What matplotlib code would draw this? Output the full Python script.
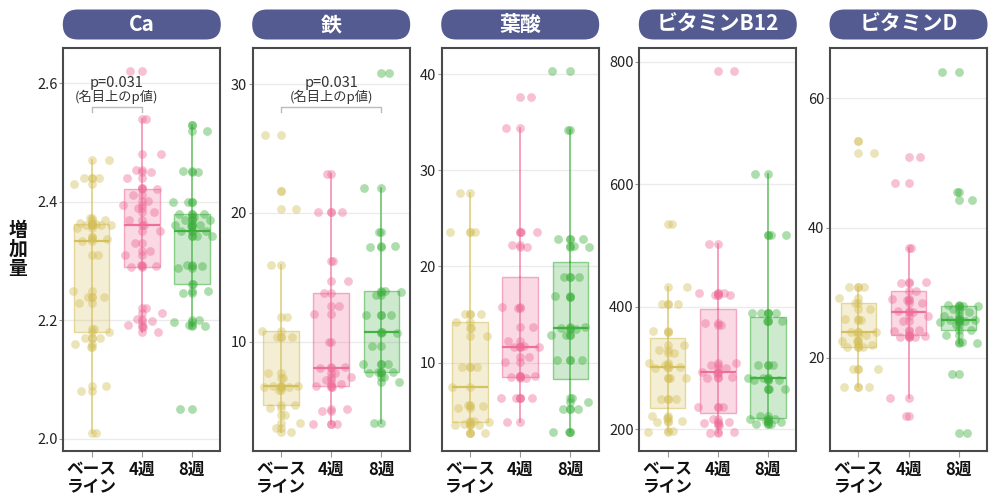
import matplotlib
matplotlib.use('Agg')
import matplotlib.pyplot as plt
import numpy as np
from matplotlib.patches import FancyBboxPatch
from matplotlib.colors import to_rgba
from matplotlib.ticker import FormatStrFormatter

plt.rcParams['font.family'] = ['Noto Sans CJK JP', 'DejaVu Sans']

# Data
groups = ['ベース\nライン', '4週', '8週']
nutrients = ['Ca', '鉄', '葉酸', 'ビタミンB12', 'ビタミンD']

ca_base = [2.01, 2.08, 2.09, 2.155, 2.16, 2.17, 2.17, 2.181, 2.185, 2.23, 2.24, 2.24, 2.25, 2.31, 2.334,
           2.337, 2.34, 2.355, 2.36, 2.36, 2.36, 2.362, 2.365, 2.37, 2.372, 2.43, 2.44, 2.44, 2.47]
ca_4w = [2.18, 2.188, 2.192, 2.199, 2.203, 2.212, 2.22, 2.29, 2.291, 2.294, 2.31, 2.317, 2.331, 2.351, 2.361,
         2.37, 2.382, 2.389, 2.394, 2.402, 2.412, 2.421, 2.424, 2.44, 2.451, 2.453, 2.48, 2.54, 2.62]
ca_8w = [2.05, 2.19, 2.192, 2.197, 2.2, 2.246, 2.25, 2.261, 2.288, 2.291, 2.294, 2.342, 2.342, 2.35, 2.351,
         2.359, 2.361, 2.361, 2.37, 2.37, 2.375, 2.38, 2.38, 2.40, 2.40, 2.451, 2.452, 2.519, 2.529]

fe_base = [2.97, 3.27, 3.66, 4.31, 4.83, 5.09, 6.25, 6.5, 6.5, 6.55, 6.6, 7.2, 7.59, 10.39, 10.4, 10.83,
           11.94, 15.95, 20.3, 21.7, 26.05]
fe_4w = [3.59, 3.6, 4.62, 4.75, 6.5, 6.58, 6.75, 7.03, 7.3, 7.55, 7.93, 8.06, 10.0, 12.13, 12.8, 13.76,
         14.71, 16.27, 20.05, 20.05, 23.0]
fe_8w = [3.66, 6.89, 7.3, 7.6, 7.65, 7.67, 8.27, 8.3, 9.69, 10.7, 10.73, 12.07, 12.1, 13.6, 13.9, 13.94,
         17.38, 17.4, 18.54, 21.9, 30.9]

folate_base = [2.72, 2.72, 3.52, 3.52, 3.6, 3.8, 3.97, 5.3, 5.5, 5.6, 7.5, 9.58, 9.6, 12.8, 13.58, 14.26,
               15.03, 15.03, 23.62, 23.62, 27.67]
folate_4w = [3.8, 6.3, 6.3, 6.35, 8.4, 8.46, 8.62, 8.65, 10.04, 10.62, 11.6, 11.66, 11.77, 12.26, 13.74,
             15.7, 15.76, 22.06, 22.2, 23.62, 23.62, 34.37, 37.65]
folate_8w = [2.83, 2.83, 5.16, 5.2, 5.95, 6.3, 10.28, 10.3, 12.88, 12.9, 13.5, 13.64, 13.7, 16.86, 16.9,
             18.9, 18.94, 22.06, 22.1, 22.86, 22.9, 34.19, 40.3]

b12_base = [196, 197, 212, 214, 219, 222, 249, 249, 284, 284, 300, 302, 305, 308, 324, 330, 337.6, 359.3,
            360, 405, 405, 432, 535]
b12_4w = [194.5, 195, 207, 209.8, 212, 216.3, 236.9, 237, 284, 285, 292, 294, 300, 305, 308, 370, 373, 420,
          420, 422, 422, 502, 785]
b12_8w = [208.7, 208.7, 212, 214, 216, 216.3, 221.7, 265.3, 265.3, 280.5, 280.5, 284.2, 284.2, 305, 305,
          377, 377.3, 389.4, 389.4, 390, 517.2, 517.2, 616.8]

vitd_base = [15.44, 15.44, 18.2, 18.2, 21.6, 21.7, 22.0, 22.58, 22.6, 23.5, 23.92, 24.0, 25.81, 26.0, 27.46,
             28.39, 29.25, 30.86, 30.86, 51.52, 53.46]
vitd_4w = [11.0, 13.83, 23.2, 23.24, 23.4, 23.5, 24.12, 24.2, 25.7, 26.5, 27.09, 27.2, 28.5, 28.9, 29.1,
           30.29, 31.57, 31.6, 36.96, 46.89, 50.99]
vitd_8w = [8.44, 17.44, 22.31, 22.4, 23.5, 24.27, 25.0, 25.5, 25.7, 25.8, 25.81, 25.92, 26.5, 27.0, 27.5,
           27.97, 28.0, 28.2, 44.3, 45.6, 64.1]

panel_data = [
    [ca_base, ca_4w, ca_8w],
    [fe_base, fe_4w, fe_8w],
    [folate_base, folate_4w, folate_8w],
    [b12_base, b12_4w, b12_8w],
    [vitd_base, vitd_4w, vitd_8w],
]
yticks = [[2.0, 2.2, 2.4, 2.6], [10, 20, 30], [10, 20, 30, 40], [200, 400, 600, 800], [20, 40, 60]]
ylims = [(1.980, 2.660), (1.54, 32.83), (0.85, 42.74), (165, 823), (5.66, 67.8)]
# p-value notes: panel -> (group a, group b, text)
p_notes = {0: (0, 1, 'p=0.031'), 1: (0, 2, 'p=0.031')}

colors = ['#d4bf58', '#ee6b96', '#3caf3c']
pill_color = '#545b91'

W, H = 1001, 501
fig = plt.figure(figsize=(W / 100, H / 100), dpi=100)

# overlay in pixel coords for pills and y label
over = fig.add_axes([0, 0, 1, 1])
over.set_xlim(0, W)
over.set_ylim(H, 0)
over.axis('off')

panel_left = [63.3, 252.7, 441.7, 639.3, 830]
pw = 157
ax_top, ax_bot = 47.7, 450.7

over.text(18, 249, '増\n加\n量', ha='center', va='center', fontsize=13.5, fontweight='bold',
          linespacing=1.0, color='#111')

for i, name in enumerate(nutrients):
    left = panel_left[i]
    pill = FancyBboxPatch((left - 0.5, 9.5), pw + 1, 30, boxstyle='round,pad=0,rounding_size=15',
                          fc=pill_color, ec='none')
    over.add_patch(pill)
    over.text(left + pw / 2, 24.5, name, ha='center', va='center', color='white',
              fontsize=15, fontweight='bold')

    ax = fig.add_axes([left / W, (H - ax_bot) / H, pw / W, (ax_bot - ax_top) / H])
    data = panel_data[i]

    bp = ax.boxplot(data, positions=[0, 1, 2], widths=0.71, patch_artist=True, showfliers=False,
                    whis=1.5, showcaps=False)
    for g, c in enumerate(colors):
        bp['boxes'][g].set(facecolor=to_rgba(c, 0.25), edgecolor=to_rgba(c, 0.55), linewidth=1.0, zorder=2)
        bp['medians'][g].set(color=c, linewidth=1.6, alpha=0.95, zorder=3)
        for w in bp['whiskers'][2 * g:2 * g + 2]:
            w.set(color=c, linewidth=1.2, alpha=0.75, zorder=2)
        q1 = bp['whiskers'][2 * g].get_ydata()[0]
        q3 = bp['whiskers'][2 * g + 1].get_ydata()[0]
        ax.plot([g, g], [q1, q3], color=c, linewidth=1.2, alpha=0.75, zorder=2)

        vals = np.array(data[g])
        n = len(vals)
        off = (((np.arange(n) + 1) * 0.6180339887 + g * 0.29 + i * 0.13) % 1.0 - 0.5) * 0.8
        ax.scatter(np.full(n, g), vals, s=40, color=c, alpha=0.42, linewidths=0, zorder=4)
        ax.scatter(g + off, vals, s=40, color=c, alpha=0.42, linewidths=0, zorder=4)

    ax.set_xlim(-0.566, 2.566)
    ax.set_ylim(*ylims[i])
    ax.set_yticks(yticks[i])
    if i == 0:
        ax.yaxis.set_major_formatter(FormatStrFormatter('%.1f'))
    ax.set_xticks([0, 1, 2])
    ax.set_xticklabels(groups, fontsize=12, fontweight='bold', linespacing=1.0, color='#111')
    ax.tick_params(axis='y', length=3, pad=1, color='#999', labelsize=10.5, labelcolor='#222')
    ax.tick_params(axis='x', length=4, pad=3, color='#999')
    ax.yaxis.grid(True, color='#ebebeb', linewidth=1)
    ax.set_axisbelow(True)
    for sp in ax.spines.values():
        sp.set_color('#4a4a4a')
        sp.set_linewidth(1.5)

    if i in p_notes:
        a, b, txt = p_notes[i]
        tr = ax.get_xaxis_transform()
        ax.plot([a, a, b, b], [0.841, 0.8536, 0.8536, 0.841], transform=tr, color='#bbbbbb',
                linewidth=1, clip_on=False, zorder=5)
        ax.text((a + b) / 2, 0.9117, txt, transform=tr, ha='center', va='center', fontsize=10.5,
                color='#333')
        ax.text((a + b) / 2, 0.878, '(名目上のp値)', transform=tr, ha='center', va='center',
                fontsize=9.5, color='#333')

fig.savefig('out.png', dpi=100)
